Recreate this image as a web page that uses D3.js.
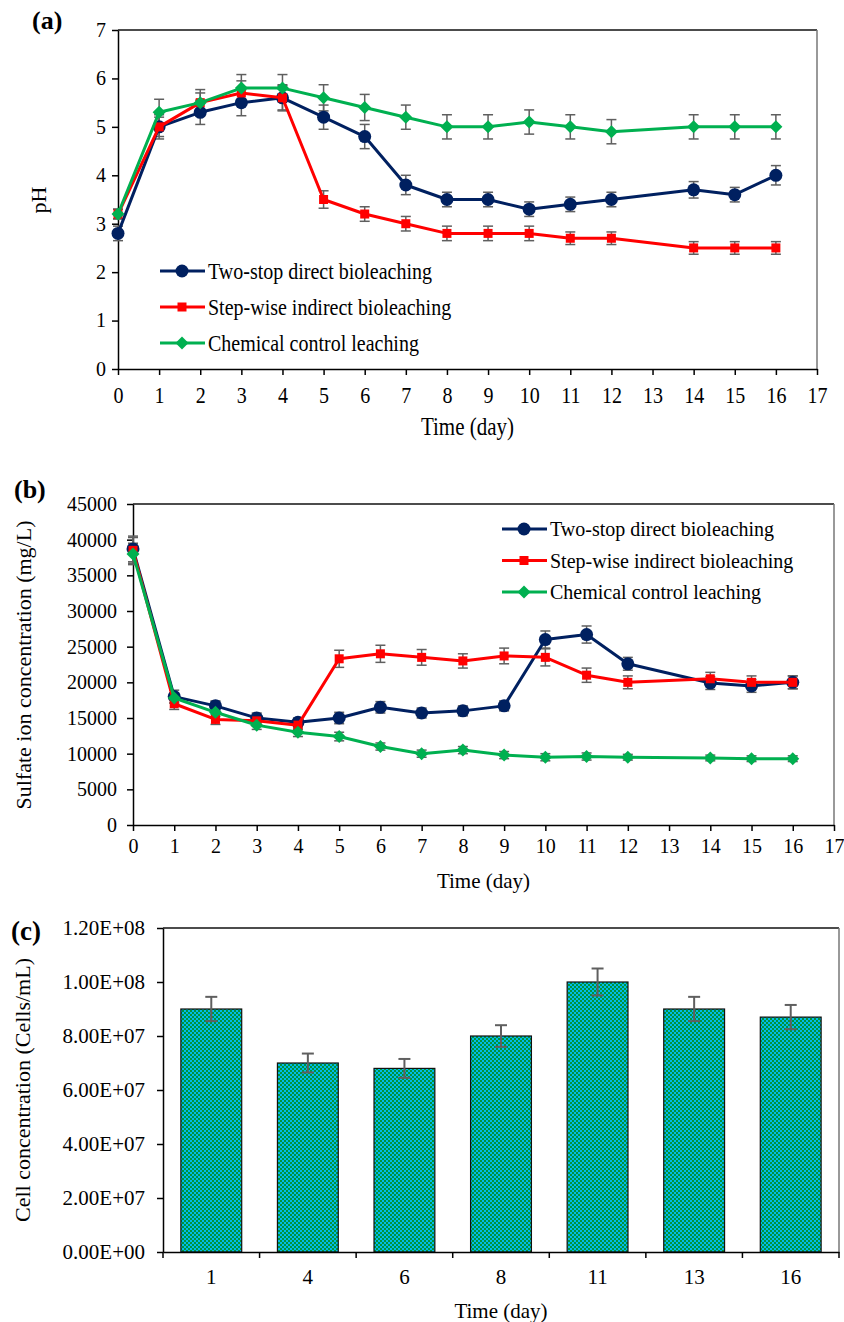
<!DOCTYPE html>
<html>
<head>
<meta charset="utf-8">
<script src="https://cdn.jsdelivr.net/npm/d3@7"></script>
<style>
  body { margin: 0; background: #fff; }
  svg text { font-family: "Liberation Serif", "Times New Roman", serif; fill: #000; }
</style>
</head>
<body>
<div id="chart"></div>
<script>
'use strict'

// ---------- data ----------
const days = [0, 1, 2, 3, 4, 5, 6, 7, 8, 9, 10, 11, 12, 14, 15, 16];
const seriesNames = ["Two-stop direct bioleaching", "Step-wise indirect bioleaching", "Chemical control leaching"];
const seriesNamesB = ["Two-stop direct  bioleaching", "Step-wise indirect bioleaching", "Chemical control leaching"];

const phDirect = [2.8, 5.0, 5.3, 5.5, 5.6, 5.2, 4.8, 3.8, 3.5, 3.5, 3.3, 3.4, 3.5, 3.7, 3.6, 4.0];
const phStep = [3.2, 5.0, 5.5, 5.7, 5.6, 3.5, 3.2, 3.0, 2.8, 2.8, 2.8, 2.7, 2.7, 2.5, 2.5, 2.5];
const phChem = [3.2, 5.3, 5.5, 5.8, 5.8, 5.6, 5.4, 5.2, 5.0, 5.0, 5.1, 5.0, 4.9, 5.0, 5.0, 5.0];
const phDirectErr = [0.15, 0.25, 0.25, 0.27, 0.27, 0.25, 0.25, 0.2, 0.15, 0.15, 0.15, 0.15, 0.15, 0.17, 0.15, 0.2];
const phStepErr = [0.1, 0.2, 0.2, 0.25, 0.25, 0.18, 0.15, 0.15, 0.15, 0.15, 0.15, 0.13, 0.13, 0.13, 0.13, 0.13];
const phChemErr = [0.1, 0.27, 0.27, 0.28, 0.28, 0.27, 0.27, 0.25, 0.25, 0.25, 0.25, 0.25, 0.25, 0.25, 0.25, 0.25];

const so4Direct = [38700, 18000, 16700, 15000, 14400, 15000, 16500, 15700, 16000, 16700, 26000, 26700, 22600, 19900, 19500, 20000];
const so4Step = [38500, 17000, 14800, 14600, 14000, 23300, 24000, 23500, 23000, 23700, 23500, 21000, 20000, 20500, 20000, 20000];
const so4Chem = [38000, 17800, 15800, 14000, 13000, 12400, 11000, 10000, 10500, 9800, 9500, 9600, 9500, 9400, 9300, 9300];
const so4DirectErr = [1800, 900, 700, 700, 600, 800, 800, 700, 700, 700, 1200, 1200, 900, 900, 900, 900];
const so4StepErr = [1800, 800, 700, 700, 600, 1200, 1200, 1100, 1000, 1100, 1200, 1000, 900, 900, 900, 900];
const so4ChemErr = [1500, 700, 600, 600, 600, 600, 500, 500, 500, 500, 500, 500, 400, 400, 400, 400];

const cellDays = ["1", "4", "6", "8", "11", "13", "16"];
const cellValues = [9.0e7, 7.0e7, 6.8e7, 8.0e7, 1.0e8, 9.0e7, 8.7e7];
const cellErr = [4.5e6, 3.5e6, 3.5e6, 4e6, 5e6, 4.5e6, 4.5e6];

// ---------- styles ----------
const colors = ["#002060", "#ff0000", "#00b050"];
const shapes = ["circle", "square", "diamond"];
const errColor = "#5f5f5f";

const svg = d3.select('#chart').append('svg')
  .attr('width', 844)
  .attr('height', 1322);

// checker pattern for bars
const pat = svg.append('defs').append('pattern')
  .attr('id', 'checker')
  .attr('width', 4).attr('height', 4)
  .attr('patternUnits', 'userSpaceOnUse');
pat.append('rect').attr('width', 4).attr('height', 4).attr('fill', '#00bce8');
pat.append('rect').attr('width', 2).attr('height', 2).attr('fill', '#00923e');
pat.append('rect').attr('x', 2).attr('y', 2).attr('width', 2).attr('height', 2).attr('fill', '#00923e');

function marker(g, shape, color) {
  if (shape == "circle") {
    g.append('circle').attr('r', 6.5).attr('fill', color);
  } else if (shape == "square") {
    g.append('rect').attr('x', -4.5).attr('y', -4.5).attr('width', 9).attr('height', 9).attr('fill', color);
  } else {
    g.append('path').attr('d', 'M0,-6.5L6.5,0L0,6.5L-6.5,0Z').attr('fill', color);
  }
}

function styleAxis(g, fs) {
  g.selectAll('path').attr('stroke', '#000').attr('stroke-width', 1.5);
  g.selectAll('line').attr('stroke', '#000').attr('stroke-width', 1.5);
  g.selectAll('text').attr('font-size', fs).attr('fill', '#000');
}

// frame: black top, grey right, like the original
function frame(g, l, r, t, b) {
  g.append('line').attr('x1', l).attr('x2', r).attr('y1', t).attr('y2', t)
    .attr('stroke', '#111').attr('stroke-width', 1.5);
  g.append('line').attr('x1', r).attr('x2', r).attr('y1', t).attr('y2', b)
    .attr('stroke', '#777').attr('stroke-width', 1.5);
}

// ---------- line panel ----------
function linePanel(o) {
  const x = d3.scaleLinear().domain([0, 17]).range([o.left, o.right]);
  const y = d3.scaleLinear().domain([0, o.ymax]).range([o.bottom, o.top]);
  const g = svg.append('g');

  frame(g, o.left, o.right, o.top, o.bottom);

  const xa = g.append('g')
    .attr('transform', `translate(0,${o.bottom})`)
    .call(d3.axisBottom(x).ticks(17).tickSize(6).tickPadding(8).tickSizeOuter(0))
    .call(a => styleAxis(a, 20));
  if (o.stretch) {
    xa.selectAll('.tick text').attr('transform', `scale(1,${o.stretch})`);
  }

  g.append('g')
    .attr('transform', `translate(${o.left},0)`)
    .call(d3.axisLeft(y).ticks(o.ymax / o.step).tickSize(6).tickPadding(o.ypad).tickFormat(d3.format('d')).tickSizeOuter(0))
    .call(a => styleAxis(a, 20));

  const line = d3.line().x((d, i) => x(days[i])).y(d => y(d));

  o.series.forEach((s, k) => {
    // error bars
    const eb = g.append('g').selectAll('g').data(s.values).join('g');
    eb.append('line')
      .attr('x1', (d, i) => x(days[i])).attr('x2', (d, i) => x(days[i]))
      .attr('y1', (d, i) => y(d - s.err[i])).attr('y2', (d, i) => y(d + s.err[i]))
      .attr('stroke', errColor).attr('stroke-width', 1.5);
    [-1, 1].forEach(sign => {
      eb.append('line')
        .attr('x1', (d, i) => x(days[i]) - 5).attr('x2', (d, i) => x(days[i]) + 5)
        .attr('y1', (d, i) => y(d + sign * s.err[i])).attr('y2', (d, i) => y(d + sign * s.err[i]))
        .attr('stroke', errColor).attr('stroke-width', 1.5);
    });
  });

  o.series.forEach((s, k) => {
    g.append('path')
      .datum(s.values)
      .attr('d', line)
      .attr('fill', 'none')
      .attr('stroke', colors[k])
      .attr('stroke-width', 3)
      .attr('stroke-linejoin', 'round');
    g.append('g').selectAll('g').data(s.values).join('g')
      .attr('transform', (d, i) => `translate(${x(days[i])},${y(d)})`)
      .each(function () { marker(d3.select(this), shapes[k], colors[k]); });
  });

  // legend
  o.names.forEach((n, k) => {
    const ly = o.legY + k * o.legGap;
    g.append('line')
      .attr('x1', o.legX).attr('x2', o.legX + 45)
      .attr('y1', ly).attr('y2', ly)
      .attr('stroke', colors[k]).attr('stroke-width', 3);
    const m = g.append('g').attr('transform', `translate(${o.legX + 22},${ly})`);
    marker(m, shapes[k], colors[k]);
    g.append('text')
      .attr('transform', `translate(${o.legX + 48},${ly}) scale(1,${o.stretch || 1})`)
      .attr('dominant-baseline', 'central')
      .attr('font-size', 20)
      .text(n);
  });

  // titles
  g.append('text')
    .attr('transform', `translate(${(o.left + o.right) / 2},${o.bottom + o.titleDy}) scale(1,${o.stretch || 1})`)
    .attr('text-anchor', 'middle').attr('font-size', 21)
    .text('Time (day)');
  g.append('text')
    .attr('transform', `translate(${o.ylabX},${o.ylabY}) rotate(-90)`)
    .attr('text-anchor', 'middle').attr('font-size', 22)
    .text(o.ylabel);
  g.append('text')
    .attr('x', o.tagX).attr('y', o.tagY)
    .attr('font-size', 26).attr('font-weight', 'bold')
    .text(o.tag);
}

linePanel({
  left: 118, right: 817, top: 30, bottom: 369, ymax: 7, step: 1, ypad: 6, stretch: 1.2, titleDy: 66,
  series: [
    { values: phDirect, err: phDirectErr },
    { values: phStep, err: phStepErr },
    { values: phChem, err: phChemErr }
  ],
  names: seriesNames, legX: 160, legY: 271, legGap: 36,
  ylabel: 'pH', ylabX: 46, ylabY: 200, tag: '(a)', tagX: 32, tagY: 29
});

linePanel({
  left: 133, right: 834, top: 504, bottom: 825, ymax: 45000, step: 5000, ypad: 10, titleDy: 63,
  series: [
    { values: so4Direct, err: so4DirectErr },
    { values: so4Step, err: so4StepErr },
    { values: so4Chem, err: so4ChemErr }
  ],
  names: seriesNamesB, legX: 502, legY: 529, legGap: 31.5,
  ylabel: 'Sulfate ion concentration (mg/L)', ylabX: 31, ylabY: 665, tag: '(b)', tagX: 14, tagY: 498
});

// ---------- bar panel ----------
(function () {
  const left = 163, right = 839, top = 928, bottom = 1252;
  const x = d3.scaleBand().domain(cellDays).range([left, right]).paddingInner(0.37).paddingOuter(0.185);
  const y = d3.scaleLinear().domain([0, 1.2e8]).range([bottom, top]);
  const g = svg.append('g');

  frame(g, left, right, top, bottom);

  g.selectAll('.bar').data(cellValues).join('rect')
    .attr('class', 'bar')
    .attr('x', (d, i) => x(cellDays[i]))
    .attr('y', d => y(d))
    .attr('width', x.bandwidth())
    .attr('height', d => bottom - y(d))
    .attr('fill', 'url(#checker)')
    .attr('stroke', '#111').attr('stroke-width', 1.2);

  const cx = (d, i) => x(cellDays[i]) + x.bandwidth() / 2;
  const eb = g.append('g').selectAll('g').data(cellValues).join('g');
  eb.append('line')
    .attr('x1', cx).attr('x2', cx)
    .attr('y1', (d, i) => y(d - cellErr[i])).attr('y2', (d, i) => y(d + cellErr[i]))
    .attr('stroke', errColor).attr('stroke-width', 2);
  [-1, 1].forEach(sign => {
    eb.append('line')
      .attr('x1', (d, i) => cx(d, i) - 6).attr('x2', (d, i) => cx(d, i) + 6)
      .attr('y1', (d, i) => y(d + sign * cellErr[i])).attr('y2', (d, i) => y(d + sign * cellErr[i]))
      .attr('stroke', errColor).attr('stroke-width', 2);
  });

  // category axis: ticks between bands
  const xa = g.append('g').attr('transform', `translate(0,${bottom})`)
    .call(d3.axisBottom(x).tickSize(0).tickPadding(17))
    .call(a => styleAxis(a, 21));
  d3.range(cellDays.length + 1).forEach(i => {
    const bx = left + i * (right - left) / cellDays.length;
    xa.append('line').attr('x1', bx).attr('x2', bx).attr('y1', 0).attr('y2', 6)
      .attr('stroke', '#000').attr('stroke-width', 1.5);
  });

  g.append('g').attr('transform', `translate(${left},0)`)
    .call(d3.axisLeft(y).tickValues(d3.range(0, 1.2e8 + 1, 2e7)).tickSize(6).tickPadding(12)
      .tickFormat(d => d3.format('.2e')(d).replace('e+', 'E+0').toUpperCase()).tickSizeOuter(0))
    .call(a => styleAxis(a, 21));

  g.append('text')
    .attr('x', (left + right) / 2).attr('y', bottom + 66)
    .attr('text-anchor', 'middle').attr('font-size', 21)
    .text('Time (day)');
  g.append('text')
    .attr('transform', `translate(30,${(top + bottom) / 2}) rotate(-90)`)
    .attr('text-anchor', 'middle').attr('font-size', 22)
    .text('Cell concentration (Cells/mL)');
  g.append('text')
    .attr('x', 11).attr('y', 940)
    .attr('font-size', 27).attr('font-weight', 'bold')
    .text('(c)');
})();
</script>
</body>
</html>
